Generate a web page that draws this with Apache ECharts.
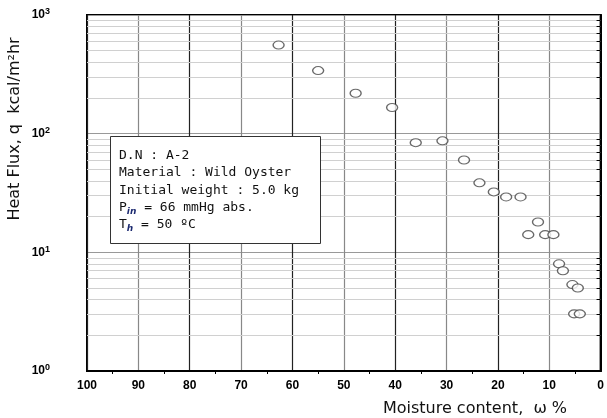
<!DOCTYPE html>
<html>
<head>
<meta charset="utf-8">
<script src="https://cdn.jsdelivr.net/npm/echarts@6/dist/echarts.min.js"></script>
<style>
  html, body { margin: 0; padding: 0; background: #fff; }
  #main { width: 607px; height: 418px; }
</style>
</head>
<body>
<div id="main"></div>
<script>
// moisture content (%) and heat flux (kcal/m2hr)
var moisture = [62.7, 55.0, 47.7, 40.6, 36.0, 30.8, 26.6, 23.6, 20.8, 18.4, 15.6,
                12.2, 14.1, 10.8, 9.2, 8.1, 7.35, 5.5, 4.45, 5.16, 4.06];
var heatFlux = [558, 340, 219, 166, 84, 87, 60, 38.5, 32.3, 29.3, 29.3,
                18.0, 14.1, 14.1, 14.1, 8.0, 7.0, 5.35, 5.0, 3.03, 3.03];

var yTickExp = { 1: "0", 10: "1", 100: "2", 1000: "3" };
var minorSteps = [2, 3, 4, 5, 6, 7, 8, 9];
var decades = [1, 10, 100];

var boxLines = [
  "D.N : A-2",
  "Material : Wild Oyster",
  "Initial weight : 5.0 kg",
  "P{s|in} = 66 mmHg abs.",
  "T{s|h} = 50 \u00baC"
];

var points = moisture.map(function (x, i) { return [x, heatFlux[i]]; });

// light grid lines at 2..9 of each decade
var minorLines = [];
decades.forEach(function (d) {
  minorSteps.forEach(function (m) { minorLines.push({ yAxis: d * m }); });
});
// short tick marks on the right edge
var rightTicks = [];
minorLines.forEach(function (l) {
  rightTicks.push([{ coord: [0, l.yAxis] }, { coord: [0.8, l.yAxis] }]);
});

var myChart = echarts.init(document.getElementById("main"));
var boxTop = 136;
var textEls = boxLines.map(function (t, i) {
  return {
    type: "text",
    left: 119,
    top: boxTop + 13 + i * 17.4,
    style: {
      text: t,
      font: "13px 'DejaVu Sans Mono', monospace",
      fill: "#111",
      rich: {
        s: { font: "italic bold 9px 'DejaVu Sans'", fill: "#1c2a70", padding: [8, 0, 0, 0] }
      }
    },
    z: 101
  };
});

var options = {
  animation: false,
  grid: {
    left: 87, top: 15, right: 3, bottom: 47,
    show: true, borderColor: "#000", borderWidth: 2, backgroundColor: "transparent"
  },
  xAxis: {
    type: "value",
    min: 0, max: 100, interval: 10,
    inverse: true,
    axisLine: { show: true, lineStyle: { color: "#000", width: 2 } },
    axisTick: { show: false },
    minorTick: { show: true, splitNumber: 2, length: 3, lineStyle: { color: "#000" } },
    axisLabel: { color: "#000", fontSize: 12, fontWeight: "bold", margin: 9, fontFamily: "Liberation Sans" },
    splitLine: { show: true, lineStyle: { color: ["#222", "#888"], width: 1.2 } }
  },
  yAxis: {
    type: "log",
    logBase: 10,
    min: 1, max: 1000,
    axisLine: { show: true, lineStyle: { color: "#000", width: 2 } },
    axisTick: { show: false },
    axisLabel: {
      color: "#000", fontSize: 12, fontWeight: "bold", margin: 37, fontFamily: "Liberation Sans",
      formatter: function (v) {
        var e = yTickExp[Math.round(v)];
        return e === undefined ? "" : "10{sup|" + e + "}";
      },
      rich: {
        sup: { fontSize: 9, fontWeight: "bold", fontFamily: "Liberation Sans", color: "#000", padding: [0, 0, 6, 0] }
      }
    },
    splitLine: { show: true, lineStyle: { color: "#999", width: 1 } }
  },
  graphic: [
    {
      type: "text",
      x: 15, y: 129,
      rotation: Math.PI / 2,
      style: {
        text: "Heat Flux, q  kcal/m\u00b2hr",
        font: "16px 'DejaVu Sans', sans-serif",
        fill: "#111",
        align: "center",
        verticalAlign: "middle"
      }
    },
    {
      type: "text",
      x: 475, y: 409,
      style: {
        text: "Moisture content,  \u03c9 %",
        font: "16px 'DejaVu Sans', sans-serif",
        fill: "#111",
        align: "center",
        verticalAlign: "middle"
      }
    },
    {
      type: "rect",
      shape: { x: 110.5, y: boxTop + 0.5, width: 210, height: 107 },
      style: { fill: "#fff", stroke: "#333", lineWidth: 1 },
      z: 100
    }
  ].concat(textEls),
  series: [
    {
      type: "scatter",
      data: points,
      symbol: "circle",
      symbolSize: [11, 8],
      itemStyle: { color: "#fff", borderColor: "#444", borderWidth: 1.2 },
      z: 5,
      markLine: {
        silent: true,
        symbol: "none",
        label: { show: false },
        lineStyle: { color: "#d0d0d0", width: 1, type: "solid" },
        data: minorLines
      }
    },
    {
      type: "scatter",
      data: [],
      markLine: {
        silent: true,
        symbol: "none",
        label: { show: false },
        lineStyle: { color: "#000", width: 1, type: "solid" },
        data: rightTicks
      }
    }
  ]
};

myChart.setOption(options);
</script>
</body>
</html>
